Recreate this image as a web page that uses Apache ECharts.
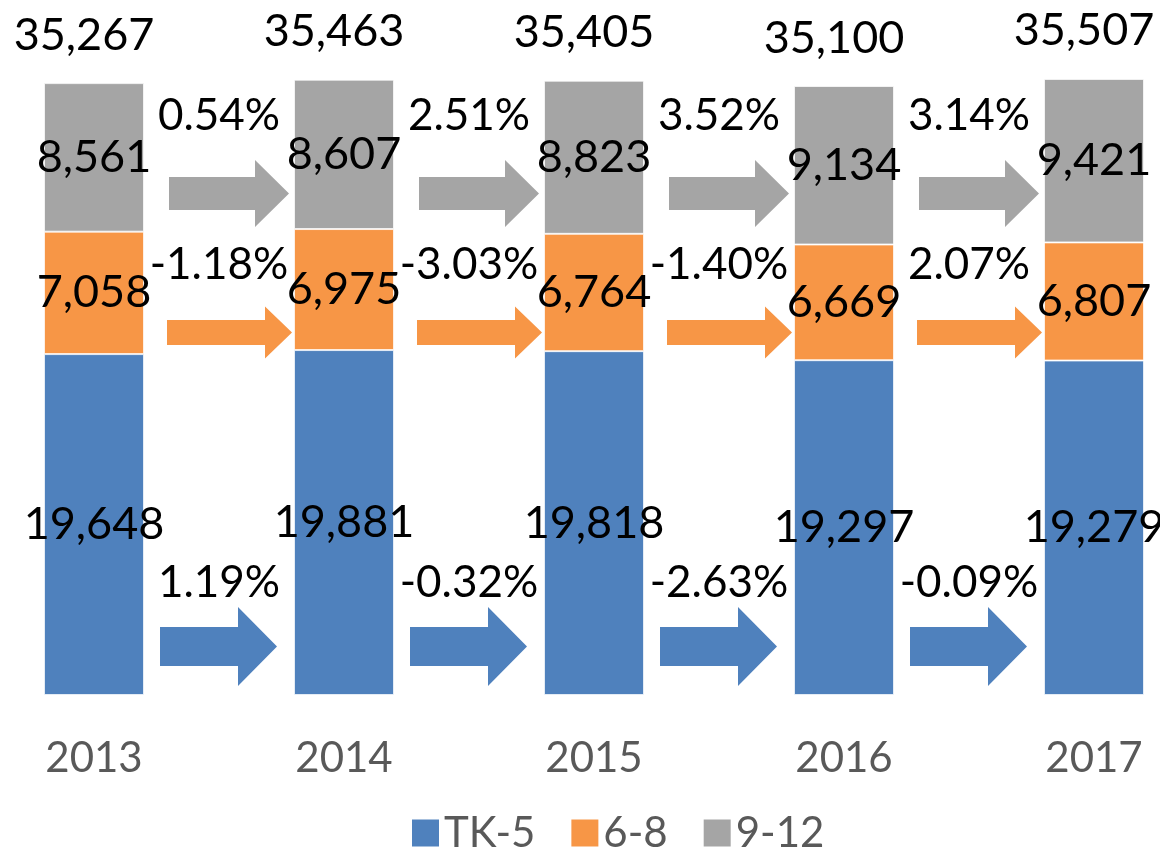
<!DOCTYPE html>
<html>
<head>
<meta charset="utf-8">
<title>Enrollment by grade band</title>
<script src="https://cdn.jsdelivr.net/npm/echarts@6/dist/echarts.min.js"></script>
<style>
  html, body { margin: 0; padding: 0; background: #fff; }
  #chart { width: 1160px; height: 850px; }
</style>
</head>
<body>
<div id="chart"></div>
<script>
// data
const years = ['2013', '2014', '2015', '2016', '2017'];
const tk5 = [19648, 19881, 19818, 19297, 19279];
const g68 = [7058, 6975, 6764, 6669, 6807];
const g912 = [8561, 8607, 8823, 9134, 9421];
const tk5Change = ['1.19%', '-0.32%', '-2.63%', '-0.09%'];
const g68Change = ['-1.18%', '-3.03%', '-1.40%', '2.07%'];
const g912Change = ['0.54%', '2.51%', '3.52%', '3.14%'];

const totals = years.map((_, i) => tk5[i] + g68[i] + g912[i]);

const FONT = 'Lato';
const fmt = v => Number(v).toLocaleString('en-US');

// arrow bands: level is in axis units, the rest in pixels
const bands = [
  { color: '#4F81BD', level: 2800, labels: tk5Change, x0: -59, x1: 58, shaft: 39, head: 79, headLen: 39, labelDy: -64 },
  { color: '#F79646', level: 20900, labels: g68Change, x0: -52, x1: 73, shaft: 25, head: 52, headLen: 27, labelDy: -68 },
  { color: '#A5A5A5', level: 28900, labels: g912Change, x0: -50, x1: 70, shaft: 33, head: 67, headLen: 34, labelDy: -78 }
];

const arrowData = [];
bands.forEach((b, bi) => b.labels.forEach((_, i) => arrowData.push([i, bi])));

const chart = echarts.init(document.getElementById('chart'));

const barLabel = {
  show: true,
  position: 'inside',
  color: '#000',
  fontFamily: FONT,
  fontSize: 45,
  formatter: p => fmt(p.value)
};
const barItem = color => ({ color: color, borderColor: 'rgba(255,255,255,0.7)', borderWidth: 1 });

const option = {
  animation: false,
  backgroundColor: '#fff',
  textStyle: { fontFamily: FONT },
  grid: { left: 94, right: 66, top: 1, bottom: 155 },
  legend: {
    data: ['TK-5', '6-8', '9-12'],
    left: 407,
    top: 807,
    icon: 'rect',
    itemWidth: 27,
    itemHeight: 27,
    itemGap: 36,
    itemStyle: { borderWidth: 0 },
    textStyle: { fontFamily: FONT, fontSize: 42, color: '#595959' }
  },
  xAxis: {
    type: 'category',
    data: years,
    boundaryGap: false,
    axisLine: { show: false },
    axisTick: { show: false },
    axisLabel: { fontFamily: FONT, fontSize: 42, color: '#595959', margin: 38, lineHeight: 50 }
  },
  yAxis: { type: 'value', min: 0, max: 40000, show: false },
  series: [
    { name: 'TK-5', type: 'bar', stack: 'all', barWidth: 100, clip: false, data: tk5, itemStyle: barItem('#4F81BD'), label: barLabel },
    { name: '6-8', type: 'bar', stack: 'all', barWidth: 100, clip: false, data: g68, itemStyle: barItem('#F79646'), label: barLabel },
    { name: '9-12', type: 'bar', stack: 'all', barWidth: 100, clip: false, data: g912, itemStyle: barItem('#A5A5A5'), label: barLabel },
    {
      name: 'change',
      type: 'custom',
      clip: false,
      silent: true,
      data: arrowData,
      renderItem: (params, api) => {
        const i = api.value(0);
        const b = bands[api.value(1)];
        const p0 = api.coord([i, b.level]);
        const p1 = api.coord([i + 1, b.level]);
        const mx = (p0[0] + p1[0]) / 2;
        const cy = p0[1];
        const xa = mx + b.x0, xb = mx + b.x1, xh = xb - b.headLen;
        const s = b.shaft / 2, h = b.head / 2;
        return {
          type: 'group',
          children: [
            {
              type: 'polygon',
              shape: { points: [[xa, cy - s], [xh, cy - s], [xh, cy - h], [xb, cy], [xh, cy + h], [xh, cy + s], [xa, cy + s]] },
              style: { fill: b.color }
            },
            {
              type: 'text',
              x: mx, y: cy + b.labelDy,
              style: { text: b.labels[i], fill: '#000', font: '44px ' + FONT, align: 'center', verticalAlign: 'middle' }
            }
          ]
        };
      }
    },
    {
      name: 'total',
      type: 'custom',
      clip: false,
      silent: true,
      data: totals.map((t, i) => [i, t]),
      renderItem: (params, api) => {
        const p = api.coord([api.value(0), api.value(1)]);
        return {
          type: 'text',
          x: p[0] - 10, y: p[1] - 48,
          style: { text: fmt(api.value(1)), fill: '#000', font: '45px ' + FONT, align: 'center', verticalAlign: 'middle' }
        };
      }
    }
  ]
};

chart.setOption(option);
window.addEventListener('resize', () => chart.resize());
</script>
</body>
</html>
